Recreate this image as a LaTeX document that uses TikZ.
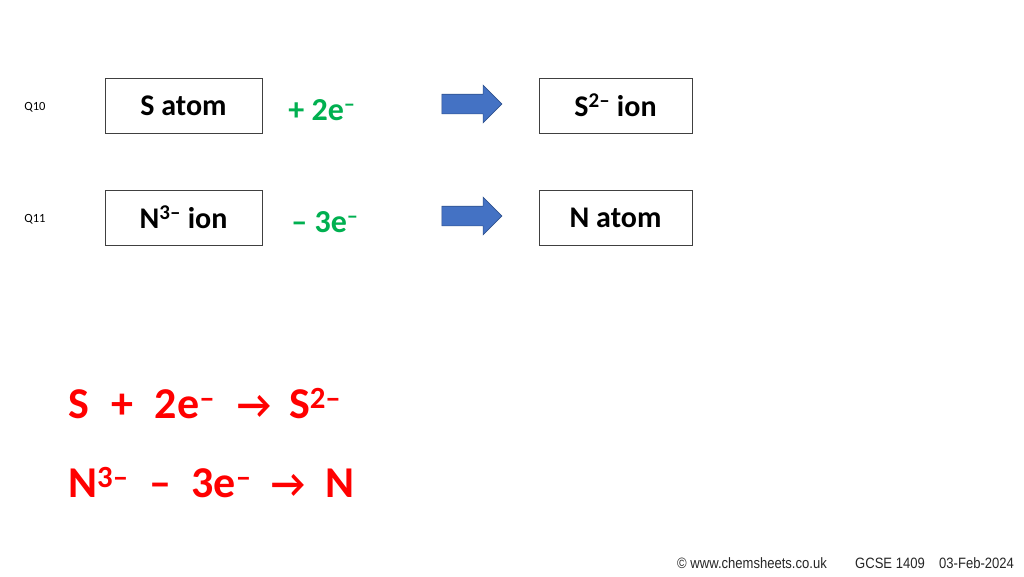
\documentclass[tikz,border=0pt]{standalone}
\usepackage{fontspec}
\setmainfont{Carlito}
\newfontfamily\footfont[FakeStretch=0.87]{Liberation Sans}
\usetikzlibrary{positioning,shapes.arrows}
\definecolor{boxline}{RGB}{64,64,64}
\definecolor{arrowblue}{RGB}{68,114,196}
\definecolor{arrowedge}{RGB}{47,82,143}
\definecolor{chemgreen}{RGB}{0,176,80}
\tikzset{
  species/.style={draw=boxline,line width=1pt,minimum width=157pt,minimum height=55pt,inner sep=0pt,font=\fontsize{30}{36}\selectfont\bfseries},
  change/.style={text=chemgreen,font=\fontsize{32}{38}\selectfont\bfseries,inner sep=0pt},
  becomes/.style={single arrow,fill=arrowblue,draw=arrowedge,line width=0.6pt,minimum height=60pt,single arrow head extend=9pt,single arrow tip angle=90,inner sep=0pt},
  qlabel/.style={font=\fontsize{12.5}{15}\selectfont,inner sep=0pt},
  equation/.style={text=red,font=\fontsize{44}{52}\selectfont\bfseries,inner sep=0pt,anchor=base west},
  footer/.style={font=\footfont\fontsize{15}{17}\selectfont,text=black!85,inner sep=0pt,anchor=base west}
}
\newcommand{\yields}{\scalebox{0.85}[0.9]{→}}
\begin{document}
\begin{tikzpicture}[x=1pt,y=-1pt]
  \useasboundingbox[fill=white] (0,0) rectangle (1024,576);
  % question labels
  \node[qlabel] (q10) at (35,107) {Q10};
  \node[qlabel] (q11) at (35,219) {Q11};
  % boxes
  \node[species] (satom) at (183.5,105.5) {S atom};
  \node[species,minimum width=153pt] (sion) at (615.5,105.5) {S\textsuperscript{2–} ion};
  \node[species] (nion) at (183.5,217.5) {N\textsuperscript{3–} ion};
  \node[species,minimum width=153pt] (natom) at (615.5,217.5) {N atom};
  % electrons gained or lost
  \node[change] (gain) at (322,110) {+ 2e\textsuperscript{–}};
  \node[change] (lose) at (325,222) {– 3e\textsuperscript{–}};
  % block arrows
  \node[becomes] (arr1) at (467,104) {\rule{0pt}{19pt}};
  \node[becomes] (arr2) at (467,216) {\rule{0pt}{19pt}};
  % equations
  \node[equation] (eq1) at (68,418) {S\hspace{23pt}+\hspace{21pt}2e\textsuperscript{–}\hspace{22pt}\yields\hspace{18pt}S\textsuperscript{2–}};
  \node[equation] (eq2) at (68,497) {N\textsuperscript{3–}\hspace{21pt}–\hspace{20pt}3e\textsuperscript{–}\hspace{20pt}\yields\hspace{20pt}N};
  % footer
  \node[footer] (site) at (677,568) {© www.chemsheets.co.uk};
  \node[footer] (code) at (855,568) {GCSE 1409};
  \node[footer] (date) at (939,568) {03-Feb-2024};
\end{tikzpicture}
\end{document}
